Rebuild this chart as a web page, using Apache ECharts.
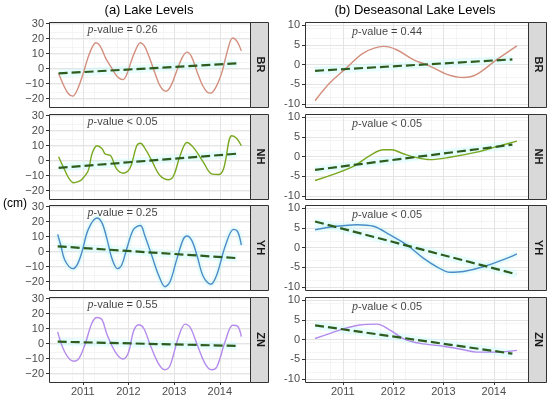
<!DOCTYPE html>
<html><head><meta charset="utf-8">
<script src="https://cdn.jsdelivr.net/npm/echarts@6/dist/echarts.min.js"></script>
<style>html,body{margin:0;padding:0;background:#fff}#c{width:550px;height:399px}</style>
</head><body><div id="c"></div>
<script>
// ---------- data ----------
const LAKES = ['BR', 'NH', 'YH', 'ZN'];
const X_TICKS = [2011, 2012, 2013, 2014];
const Y_TICKS_LEVEL = [-20, -10, 0, 10, 20, 30];
const Y_TICKS_DESEASON = [-10, -5, 0, 5, 10];
const P_LEVEL = ['= 0.26', '< 0.05', '= 0.25', '= 0.55'];
const P_DESEASON = ['= 0.44', '< 0.05', '< 0.05', '< 0.05'];

const BR_LEVEL = [[2010.47,-3],[2010.58,-11],[2010.68,-16.5],[2010.78,-18.3],[2010.88,-14],[2011.0,-4],[2011.1,6],[2011.2,14],[2011.29,17.2],[2011.38,15],[2011.5,7],[2011.62,1],[2011.72,-4],[2011.8,-6.5],[2011.88,-7.3],[2011.96,-4],[2012.05,4],[2012.15,12],[2012.26,17.2],[2012.35,15],[2012.45,8],[2012.58,-3],[2012.7,-12],[2012.82,-15],[2012.92,-12],[2013.05,-2],[2013.17,7],[2013.28,11],[2013.38,8],[2013.5,-2],[2013.62,-11],[2013.72,-15.5],[2013.8,-16.3],[2013.92,-12],[2014.05,-2],[2014.15,10],[2014.28,20.4],[2014.38,18],[2014.47,11.8]];
const NH_LEVEL = [[2010.47,2.6],[2010.6,-6],[2010.7,-12],[2010.8,-14.7],[2010.9,-14],[2010.98,-12.5],[2011.12,-6.6],[2011.2,4.4],[2011.31,9.9],[2011.42,8],[2011.49,4.4],[2011.61,3.3],[2011.74,-5.5],[2011.89,-8.4],[2012.0,-6.6],[2012.07,-2.2],[2012.18,9.9],[2012.26,11.6],[2012.39,6.6],[2012.51,0],[2012.69,-9.9],[2012.88,-12.7],[2012.99,-9.9],[2013.13,3.3],[2013.28,12.1],[2013.42,8.8],[2013.64,-1.1],[2013.82,-8.8],[2013.97,-9.2],[2014.08,-5.5],[2014.26,16.5],[2014.37,14.7],[2014.47,9.9]];
const YH_LEVEL = [[2010.45,11.5],[2010.52,3.9],[2010.61,-5.9],[2010.78,-11.3],[2010.87,-9.1],[2010.98,-0.4],[2011.12,14.8],[2011.31,22.4],[2011.42,19.1],[2011.53,8.3],[2011.64,-4.8],[2011.76,-11.3],[2011.85,-9.1],[2011.96,1.7],[2012.11,14.8],[2012.26,17.4],[2012.36,10.4],[2012.51,-2.6],[2012.66,-15.7],[2012.8,-23.3],[2012.91,-20],[2013.06,-4.8],[2013.2,8.3],[2013.28,10.4],[2013.39,7.2],[2013.5,-2.6],[2013.64,-16.7],[2013.8,-21.7],[2013.93,-15.7],[2014.12,3.9],[2014.3,14.8],[2014.39,13.3],[2014.47,4.3]];
const ZN_LEVEL = [[2010.45,7.8],[2010.61,-5.9],[2010.8,-11.7],[2010.91,-10.2],[2011.05,-0.4],[2011.2,13.7],[2011.31,17.4],[2011.42,15.9],[2011.53,6.1],[2011.71,-5.4],[2011.88,-10.2],[2012.0,-5.9],[2012.11,8.3],[2012.22,12.6],[2012.33,10.4],[2012.47,-0.4],[2012.66,-13.5],[2012.8,-17.4],[2012.91,-14.6],[2013.09,3.9],[2013.24,13],[2013.35,10.9],[2013.5,-0.4],[2013.68,-13.5],[2013.82,-17.4],[2013.93,-15.7],[2014.12,1.7],[2014.28,12.2],[2014.39,11.5],[2014.47,4.6]];

const BR_DESEASON = [[2010.45,-9.2],[2010.75,-4.6],[2011.08,-0.8],[2011.41,2.9],[2011.81,4.6],[2012.07,3.75],[2012.4,1.25],[2012.73,-0.4],[2013.07,-2.5],[2013.4,-3.3],[2013.66,-2.5],[2014.06,1.25],[2014.46,4.75]];
const NH_DESEASON = [[2010.45,-6.1],[2011.18,-2.7],[2011.54,0.25],[2011.81,1.7],[2011.97,1.7],[2012.2,0.7],[2012.47,-0.3],[2012.73,-0.8],[2013.13,-0.2],[2013.66,1.1],[2014.06,2.5],[2014.46,3.9]];
const YH_DESEASON = [[2010.45,4.5],[2010.88,5.4],[2011.28,5.8],[2011.61,5.4],[2011.94,3.2],[2012.27,0.7],[2012.6,-2.7],[2012.87,-4.9],[2013.13,-6.3],[2013.4,-6.1],[2013.79,-4.9],[2014.19,-3.1],[2014.46,-1.6]];
const ZN_DESEASON = [[2010.45,0.25],[2010.75,1.55],[2011.01,2.7],[2011.34,3.7],[2011.68,3.9],[2011.94,2.4],[2012.2,0.25],[2012.54,-1.0],[2013.0,-1.7],[2013.4,-2.6],[2013.66,-3.2],[2014.06,-3.2],[2014.46,-2.75]];

const BR_LEVEL_TREND = [[2010.47,-3.2],[2014.37,3.5]];
const NH_LEVEL_TREND = [[2010.47,-4.8],[2014.37,4.6]];
const YH_LEVEL_TREND = [[2010.45,3.5],[2014.37,-4.3]];
const ZN_LEVEL_TREND = [[2010.45,1.3],[2014.37,-1.5]];
const BR_DESEASON_TREND = [[2010.45,-1.6],[2014.37,1.3]];
const NH_DESEASON_TREND = [[2010.45,-3.4],[2014.37,3.0]];
const YH_DESEASON_TREND = [[2010.45,6.6],[2014.45,-6.8]];
const ZN_DESEASON_TREND = [[2010.45,3.6],[2014.37,-3.6]];

// ---------- styling / layout ----------
const COLORS = ['#d38f7e', '#78a81f', '#4c8cc6', '#b48aec'];
const TREND_COLOR = '#2d5c1e';
const LEVELS = [BR_LEVEL, NH_LEVEL, YH_LEVEL, ZN_LEVEL];
const DESEASONS = [BR_DESEASON, NH_DESEASON, YH_DESEASON, ZN_DESEASON];
const LEVEL_TRENDS = [BR_LEVEL_TREND, NH_LEVEL_TREND, YH_LEVEL_TREND, ZN_LEVEL_TREND];
const DESEASON_TRENDS = [BR_DESEASON_TREND, NH_DESEASON_TREND, YH_DESEASON_TREND, ZN_DESEASON_TREND];

const COLS = [
  {x: 49, w: 201, xmin: 2010.26, xmax: 2014.66, ymin: -25.5, ymax: 31, major: 10, minor: 5, ticks: Y_TICKS_LEVEL, minus: '\u2212', px: 2011.87, py: 25.8},
  {x: 305, w: 223, xmin: 2010.25, xmax: 2014.68, ymin: -10.8, ymax: 10.8, major: 5, minor: 2.5, ticks: Y_TICKS_DESEASON, minus: '-', px: 2011.88, py: 8.3}
];
const TOPS = [22, 114, 205, 297];
const H = 85, STRIP = 18;
const FONT = '"Liberation Sans", Arial, sans-serif';

const grid = [], xAxis = [], yAxis = [], series = [], graphic = [];

for (let r = 0; r < 4; r++) {
  for (let c = 0; c < 2; c++) {
    const g = r * 2 + c;
    const col = COLS[c];
    grid.push({left: col.x, top: TOPS[r], width: col.w, height: H, show: false, containLabel: false});
    xAxis.push({type: 'value', gridIndex: g, position: 'top', min: col.xmin, max: col.xmax, interval: 0.5, z: 0,
      axisLine: {show: false, onZero: false}, axisTick: {show: false}, axisLabel: {show: false},
      splitLine: {show: true, lineStyle: {color: '#f1f1f1', width: 0.7}}});
    xAxis.push({type: 'value', gridIndex: g, position: 'bottom', min: col.xmin, max: col.xmax, interval: 1, z: 1,
      axisLine: {show: false, onZero: false},
      axisTick: {show: r === 3, length: 3, customValues: X_TICKS, lineStyle: {color: '#333', width: 1}},
      axisLabel: {show: r === 3, customValues: X_TICKS, margin: 4, color: '#4d4d4d', fontSize: 11, fontFamily: FONT,
        formatter: v => Number.isInteger(v) ? String(v) : ''},
      splitLine: {show: true, lineStyle: {color: '#e4e4e4', width: 1}}});
    yAxis.push({type: 'value', gridIndex: g, position: 'right', min: col.ymin, max: col.ymax, interval: col.minor, z: 0,
      axisLine: {show: false, onZero: false}, axisTick: {show: false}, axisLabel: {show: false},
      splitLine: {show: true, lineStyle: {color: '#f1f1f1', width: 0.7}}});
    yAxis.push({type: 'value', gridIndex: g, position: 'left', min: col.ymin, max: col.ymax, interval: col.major, z: 1,
      axisLine: {show: false, onZero: false},
      axisTick: {show: true, length: 3, customValues: col.ticks, lineStyle: {color: '#333', width: 1}},
      axisLabel: {show: true, customValues: col.ticks, margin: 5, color: '#4d4d4d', fontSize: 11, fontFamily: FONT,
        formatter: v => (Math.abs(v - Math.round(v)) > 1e-6 || Math.round(v) % col.major !== 0) ? '' :
          (v < 0 ? col.minus + Math.abs(v) : String(v))},
      splitLine: {show: true, lineStyle: {color: '#e4e4e4', width: 1}}});

    const xi = g * 2 + 1, yi = g * 2 + 1;
    const curve = c === 0 ? LEVELS[r] : DESEASONS[r];
    const trend = c === 0 ? LEVEL_TRENDS[r] : DESEASON_TRENDS[r];
    series.push({type: 'line', xAxisIndex: xi, yAxisIndex: yi, data: trend, symbol: 'none', silent: true, z: 2,
      lineStyle: {color: 'rgba(205,250,250,0.45)', width: 8}});
    if (r === 2) {
      series.push({type: 'line', xAxisIndex: xi, yAxisIndex: yi, data: curve, symbol: 'none', silent: true, z: 2,
        smooth: 0.35, lineStyle: {color: 'rgba(200,248,248,0.4)', width: 6}});
    }
    series.push({type: 'line', xAxisIndex: xi, yAxisIndex: yi, data: curve, symbol: 'none', smooth: 0.35, z: 3,
      lineStyle: {color: COLORS[r], width: 1.4}});
    series.push({type: 'line', xAxisIndex: xi, yAxisIndex: yi, data: trend, symbol: 'none', z: 4,
      lineStyle: {color: TREND_COLOR, width: 2.2, type: [9, 4]}});
    const ptxt = c === 0 ? P_LEVEL[r] : P_DESEASON[r];
    series.push({type: 'scatter', xAxisIndex: xi, yAxisIndex: yi, data: [[col.px, col.py]], symbolSize: 1, z: 5,
      itemStyle: {color: 'rgba(0,0,0,0)'}, silent: true,
      label: {show: true, position: 'inside', formatter: '{i|p}-value ' + ptxt, color: '#111', fontSize: 11, fontFamily: FONT,
        rich: {i: {fontStyle: 'italic', fontFamily: '"Liberation Serif", serif', fontSize: 12, color: '#111'}}}});

    graphic.push({type: 'rect', z: 100, silent: true,
      shape: {x: col.x + 0.5, y: TOPS[r] + 0.5, width: col.w, height: H},
      style: {fill: 'none', stroke: '#333', lineWidth: 1}});
    const sx = col.x + col.w + 0.5;
    graphic.push({type: 'rect', z: 99, silent: true,
      shape: {x: sx, y: TOPS[r] + 0.5, width: STRIP, height: H},
      style: {fill: '#d9d9d9', stroke: '#333', lineWidth: 1}});
    graphic.push({type: 'text', z: 101, silent: true, x: sx + STRIP / 2 + 0.5, y: TOPS[r] + H / 2,
      rotation: -Math.PI / 2,
      style: {text: LAKES[r], align: 'center', verticalAlign: 'middle', fill: '#1a1a1a', fontSize: 11, fontWeight: 'bold', fontFamily: FONT}});
  }
}

graphic.push({type: 'text', x: 149, y: 10, z: 101, silent: true,
  style: {text: '(a) Lake Levels', align: 'center', verticalAlign: 'middle', fill: '#000', fontSize: 13, fontFamily: FONT}});
graphic.push({type: 'text', x: 415, y: 10, z: 101, silent: true,
  style: {text: '(b) Deseasonal Lake Levels', align: 'center', verticalAlign: 'middle', fill: '#000', fontSize: 13, fontFamily: FONT}});
graphic.push({type: 'text', x: 3, y: 204, z: 101, silent: true,
  style: {text: '(cm)', align: 'left', verticalAlign: 'middle', fill: '#000', fontSize: 12, fontFamily: FONT}});

const chart = echarts.init(document.getElementById('c'), null, {renderer: 'canvas'});
chart.setOption({animation: false, backgroundColor: '#fff', grid, xAxis, yAxis, series, graphic});
</script></body></html>
